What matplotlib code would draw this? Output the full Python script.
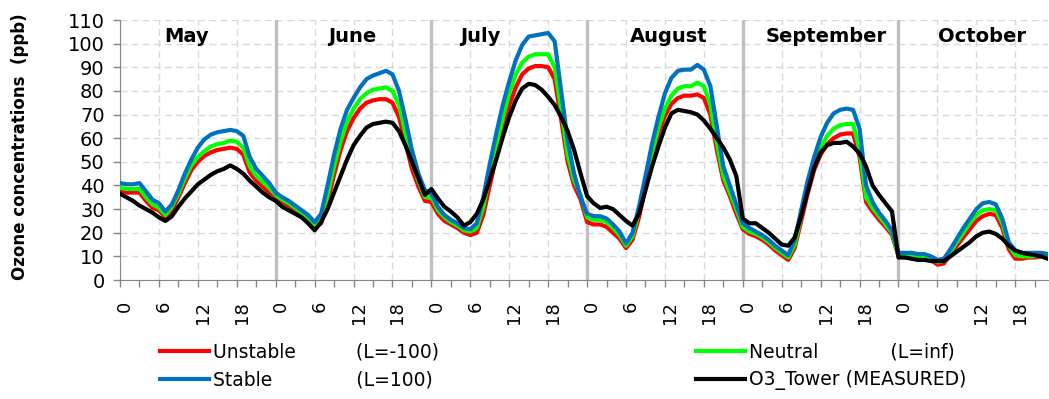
import matplotlib.pyplot as plt
import numpy as np
import matplotlib.transforms as mtransforms
from matplotlib.ticker import MultipleLocator

months = ["May", "June", "July", "August", "September", "October"]
month_label_x = [10.3, 35.8, 55.6, 84.6, 108.8, 132.9]
hour_labels = ["0", "6", "12", "18"]

# hourly mean ozone (ppb), one line per month: May .. October
unstable = [37.5, 37, 37, 37, 33.5, 30.5, 29.5, 26.5, 29.5, 35, 41, 46.5, 50, 52.5, 54, 55, 55.5, 56, 55.5, 53, 45.5, 42, 39.5, 37,
            35.5, 33, 31.5, 29.5, 27.5, 25.5, 22, 24, 33, 44.5, 55, 63, 68.5, 72.5, 75, 76, 76.5, 76.5, 75, 69, 58, 47, 39.5, 33.5,
            33, 28, 25, 23.5, 22, 20, 19, 20, 27.5, 40, 52, 63.5, 74, 81.5, 87, 89.5, 90.5, 90.5, 90, 85, 68, 50, 40, 34,
            24.5, 23.5, 23.5, 22.5, 20, 17.5, 13.5, 17, 26.5, 39, 51.5, 62, 69.5, 74.5, 77, 78, 78, 78.5, 77, 70, 55, 42, 35.5, 28,
            21.5, 19.5, 18.5, 17, 15, 12.5, 10.5, 8.5, 13.5, 25, 36.5, 46.5, 53, 57.5, 60, 61.5, 62, 62, 52, 33, 29, 25.5, 22.5, 19,
            10, 10, 9.5, 9.5, 9, 8.5, 6.5, 7, 11, 14.5, 18, 21.5, 25, 27, 28, 27.5, 22, 13, 9, 9, 9.5, 9.5, 10, 9.5]

neutral = [39, 38.5, 38.5, 38.5, 35, 32, 30.5, 27.5, 31, 36.5, 43, 48.5, 52, 54.5, 56.5, 57.5, 58, 59, 58.5, 56, 48, 44, 41.5, 39,
           36, 34, 32.5, 30.5, 28.5, 26.5, 23.5, 26, 36, 48, 58.5, 67, 72.5, 76.5, 79, 80.5, 81, 81.5, 80, 74, 62, 50, 42, 35,
           35, 29.5, 26.5, 24.5, 23, 21, 20.5, 22, 31, 44, 57, 68.5, 79, 87, 92, 94.5, 95.5, 95.5, 95.5, 90, 72, 53, 42, 36,
           26.5, 25.5, 25.5, 24.5, 22, 19, 14.5, 18.5, 29, 41.5, 54, 64.5, 72.5, 78, 81, 82, 82, 83.5, 82, 74, 58, 44, 37, 30,
           22.5, 20.5, 19.5, 18, 16, 13.5, 11.5, 9.5, 15, 27, 39, 49, 56, 61, 64, 65.5, 66, 66, 55, 35, 30.5, 27, 23.5, 20,
           10.5, 10.5, 10, 10, 9.5, 9, 7.5, 8, 12, 16, 20, 24, 27.5, 29.5, 30, 29.5, 24, 14.5, 10.5, 10, 10, 10, 10.5, 10]

stable = [41, 40.5, 40.5, 41, 37.5, 34, 32.5, 29, 32, 38, 45, 51, 56, 59.5, 61.5, 62.5, 63, 63.5, 63, 61, 52, 47, 44, 41,
          37, 35, 33.5, 31.5, 29.5, 27.5, 24.5, 28, 40, 53, 64, 72, 77, 81.5, 85, 86.5, 87.5, 88.5, 87, 80, 68, 55, 45, 38,
          36.5, 31, 27.5, 25.5, 24, 22, 21.5, 24, 35, 49, 62, 74, 84, 93, 99.5, 103, 103.5, 104, 104.5, 101, 80, 59, 45, 35,
          28, 27, 27, 26, 23.5, 20.5, 15.5, 20, 31, 44, 57.5, 69, 79, 85.5, 88.5, 89, 89, 91, 89, 82, 65, 48, 40, 32,
          24, 22, 20.5, 19, 17, 14.5, 12.5, 10.5, 17, 29.5, 42, 52, 60.5, 66.5, 70.5, 72, 72.5, 72, 64, 40, 33, 28.5, 25, 21,
          11.5, 11.5, 11.5, 11, 11, 10, 8.5, 9, 13, 17.5, 22, 26, 30, 32.5, 33, 32, 26, 16, 12.5, 11.5, 11.5, 11.5, 11.5, 11]

measured = [36.5, 35, 33.5, 31.5, 30, 28.5, 26.5, 25, 27, 31, 34.5, 37.5, 40.5, 42.5, 44.5, 46, 47, 48.5, 47, 45, 42, 39.5, 37, 35,
            33.5, 31, 29.5, 28, 26.5, 24, 21, 24.5, 30, 37, 44, 51, 57, 61, 64.5, 66, 66.5, 67, 66.5, 63, 57, 50, 43, 36,
            38.5, 34.5, 31, 29, 26.5, 23, 24.5, 28, 34, 42.5, 51, 60.5, 69, 76, 81, 83, 82.5, 80.5, 77.5, 74, 69, 63, 55, 45,
            35.5, 32.5, 30.5, 31, 30, 27.5, 25, 23, 28, 38, 48, 56.5, 64.5, 70.5, 72, 71.5, 71, 70, 67.5, 64, 60, 56, 51, 44,
            26, 24, 24, 22, 20, 17.5, 15, 14.5, 18, 27, 37.5, 47.5, 54, 57, 58, 58, 58.5, 56.5, 53.5, 48, 40, 36, 32.5, 29,
            9.5, 9.5, 9, 8.5, 8.5, 8, 8, 8, 10, 12, 14, 16, 18.5, 20, 20.5, 19.5, 17.5, 14.5, 12.5, 11.5, 11, 10.5, 10, 9]

plt.rcParams["font.family"] = "DejaVu Sans"

fig = plt.figure(figsize=(10.49, 3.99), dpi=100)
ax = fig.add_axes([120 / 1049, 1 - 280 / 399, 927.7 / 1049, 260 / 399])

hours = np.arange(len(measured))

# month separators
for m in range(1, len(months)):
    ax.axvline(24 * m, color="#BFBFBF", lw=2.4, zorder=1)

l_red, = ax.plot(hours, unstable, color="#FF0000", lw=3, zorder=3)
l_green, = ax.plot(hours, neutral, color="#00FF00", lw=3, zorder=3)
l_blue, = ax.plot(hours, stable, color="#0070C0", lw=3, zorder=3)
l_black, = ax.plot(hours, measured, color="black", lw=3, zorder=4)

for name, mx in zip(months, month_label_x):
    ax.text(mx, 103, name, ha="center", va="center", fontsize=14, fontweight="bold")

ax.set_xlim(0, len(hours) - 1)
ax.set_ylim(0, 110)
ax.set_yticks(np.arange(0, 111, 10))
ax.set_xticks(np.arange(0, len(hours), 6))
ax.set_xticklabels(hour_labels * len(months), rotation=90)
ax.xaxis.set_minor_locator(MultipleLocator(3))

ax.grid(True, which="major", color="#D9D9D9", ls=(0, (5, 3)), lw=1)
ax.set_axisbelow(True)

for side in ["top", "right"]:
    ax.spines[side].set_visible(False)
for side in ["left", "bottom"]:
    ax.spines[side].set_color("#868686")

ax.tick_params(axis="both", which="both", color="#868686", length=5, width=1)
ax.tick_params(axis="y", labelsize=14, pad=6)
ax.tick_params(axis="x", labelsize=13, pad=10)

shift = mtransforms.ScaledTranslation(5 / 100, 0, fig.dpi_scale_trans)
for lab in ax.get_xticklabels():
    lab.set_transform(lab.get_transform() + shift)

fig.text(19.7 / 1049, 1 - 146.5 / 399, "Ozone concentrations  (ppb)", rotation=90,
         ha="center", va="center", fontsize=12, fontweight="bold")

leg_kw = dict(loc="upper left", frameon=False, fontsize=13.5, handlelength=2.6,
              handletextpad=0.25, borderpad=0, borderaxespad=0, labelspacing=0.45)
fig.legend([l_red, l_blue], ["Unstable          (L=-100)", "Stable              (L=100)"],
           bbox_to_anchor=(160 / 1049, 1 - 343 / 399), **leg_kw)
fig.legend([l_green, l_black], ["Neutral            (L=inf)", "O3_Tower (MEASURED)"],
           bbox_to_anchor=(696 / 1049, 1 - 343 / 399), **leg_kw)

fig.savefig("out.png", dpi=100)
plt.close()
